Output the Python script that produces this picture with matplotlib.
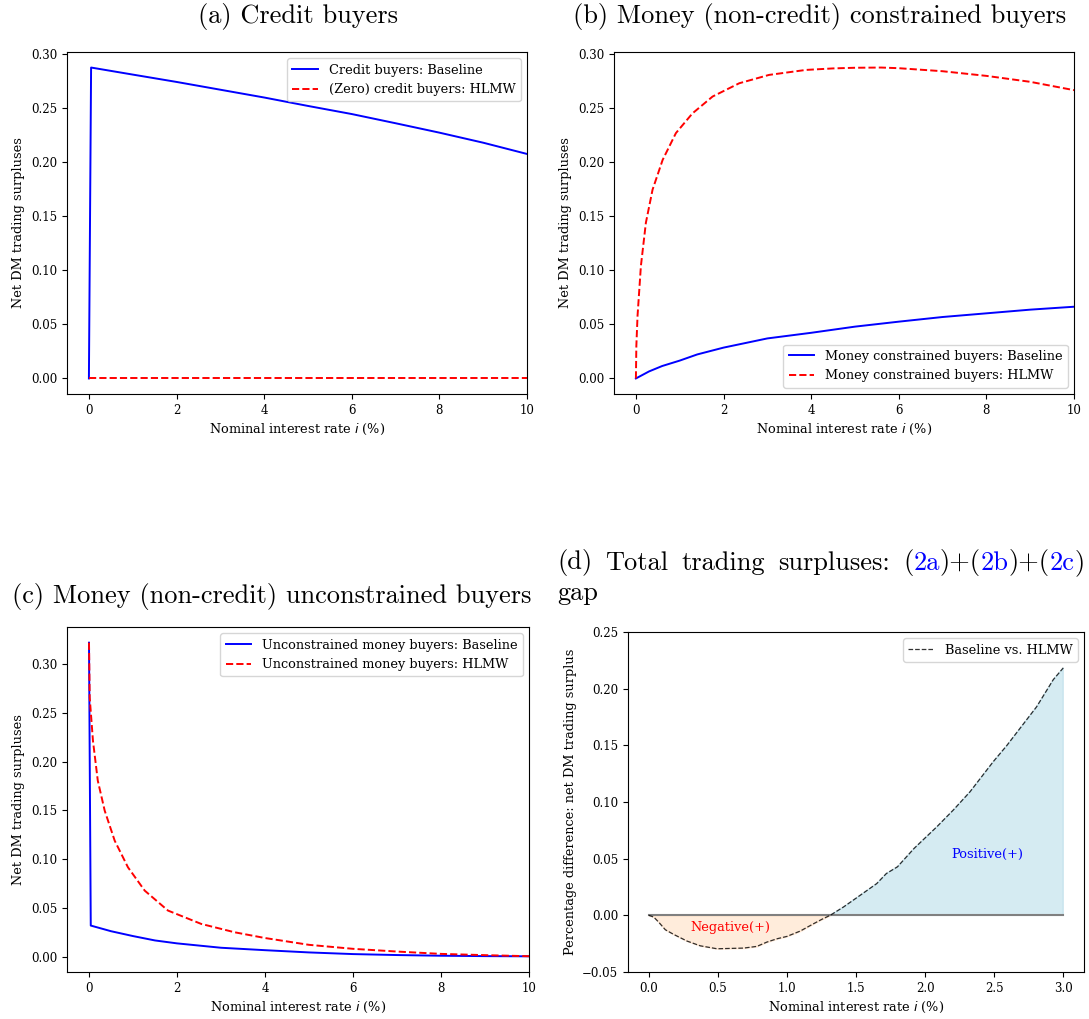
import matplotlib
matplotlib.use("Agg")
import matplotlib.pyplot as plt
import numpy as np

plt.rcParams['font.family'] = 'DejaVu Serif'
plt.rcParams['font.size'] = 9.3
plt.rcParams['xtick.labelsize'] = 8.5
plt.rcParams['ytick.labelsize'] = 8.5
plt.rcParams['legend.fontsize'] = 9.3
plt.rcParams['axes.unicode_minus'] = True

# (a) credit buyers
credit_x = [0, 0.05, 1, 2, 3, 4, 5, 6, 7, 8, 9, 10]
credit_base = [0, 0.2875, 0.281, 0.2742, 0.267, 0.2598, 0.252, 0.2445, 0.236, 0.2273, 0.218, 0.2076]
credit_hlmw_x = [0, 10]
credit_hlmw = [0, 0]

# (b) money constrained buyers
mc_base_x = [0, 0.3, 0.6, 1, 1.4, 2, 3, 4, 5, 6, 7, 8, 9, 10]
mc_base = [0, 0.0065, 0.0115, 0.0165, 0.0222, 0.0285, 0.037, 0.0422, 0.0479, 0.0525, 0.0568,
           0.0602, 0.0636, 0.0663]
mc_hlmw_x = [0, 0.01, 0.037, 0.114, 0.228, 0.38, 0.61, 0.913, 1.29, 1.75, 2.36, 3.04, 3.88,
             4.5, 5, 5.6, 6, 7, 8, 9, 10]
mc_hlmw = [0, 0.03, 0.0577, 0.104, 0.144, 0.1745, 0.202, 0.2268, 0.245, 0.2606, 0.2729, 0.2806,
           0.2852, 0.2866, 0.2872, 0.2874, 0.2868, 0.284, 0.2797, 0.2742, 0.2665]

# (c) money unconstrained buyers
mu_base_x = [0, 0.04, 0.5, 1, 1.5, 2, 3, 4, 5, 6, 7, 8, 9, 10]
mu_base = [0.3224, 0.0318, 0.026, 0.021, 0.0165, 0.0135, 0.009, 0.0065, 0.0042, 0.0025, 0.0015,
           0.0008, 0.0004, 0.0002]
mu_hlmw_x = [0, 0.016, 0.09, 0.2, 0.357, 0.584, 0.886, 1.266, 1.795, 2.55, 3.31, 4, 5, 6, 7, 8,
             9, 10]
mu_hlmw = [0.3224, 0.266, 0.2216, 0.1806, 0.1498, 0.119, 0.0916, 0.0677, 0.0472, 0.0335, 0.0249,
           0.019, 0.012, 0.0079, 0.0051, 0.0027, 0.0014, 0.0003]

# (d) gap
gap_x = [0, 0.036, 0.072, 0.12, 0.18, 0.277, 0.373, 0.494, 0.59, 0.687, 0.783, 0.855, 0.928,
         1.0, 1.096, 1.193, 1.253, 1.313, 1.41, 1.506, 1.65, 1.72, 1.80, 1.92, 2.084, 2.205,
         2.325, 2.494, 2.59, 2.687, 2.807, 2.928, 3.0]
gap = [0, -0.0015, -0.006, -0.0127, -0.0168, -0.0227, -0.0269, -0.0295, -0.0292, -0.0289,
       -0.0274, -0.0236, -0.0207, -0.0186, -0.0139, -0.0074, -0.0035, 0, 0.0074, 0.0156,
       0.028, 0.0369, 0.0428, 0.059, 0.078, 0.093, 0.109, 0.1357, 0.1496, 0.165, 0.184,
       0.208, 0.2183]

W, H = 1089, 1019
fig = plt.figure(figsize=(W / 100, H / 100), dpi=100)


def box(l, r, t, b):
    return [l / W, 1 - b / H, (r - l) / W, (b - t) / H]


ax_a = fig.add_axes(box(67, 527, 52, 394))
ax_b = fig.add_axes(box(614, 1074, 52, 394))
ax_c = fig.add_axes(box(67, 529, 627, 972))
ax_d = fig.add_axes(box(628, 1084, 632, 972))

lw = 1.4
ax_a.plot(credit_x, credit_base, color='blue', lw=lw, label='Credit buyers: Baseline')
ax_a.plot(credit_hlmw_x, credit_hlmw, color='red', ls='--', lw=lw,
          label='(Zero) credit buyers: HLMW')
ax_a.legend(loc='upper right')

ax_b.plot(mc_base_x, mc_base, color='blue', lw=lw, label='Money constrained buyers: Baseline')
ax_b.plot(mc_hlmw_x, mc_hlmw, color='red', ls='--', lw=lw, label='Money constrained buyers: HLMW')
ax_b.legend(loc='lower right')

ax_c.plot(mu_base_x, mu_base, color='blue', lw=lw, label='Unconstrained money buyers: Baseline')
ax_c.plot(mu_hlmw_x, mu_hlmw, color='red', ls='--', lw=lw,
          label='Unconstrained money buyers: HLMW')
ax_c.legend(loc='upper right')

for ax in (ax_a, ax_b, ax_c):
    ax.set_xlim(-0.5, 10)
    ax.set_xlabel('Nominal interest rate $i$ (%)')
    ax.set_ylabel('Net DM trading surpluses')

gx = np.array(gap_x)
gy = np.array(gap)
ax_d.fill_between(gx, gy, 0, where=gy >= 0, interpolate=True, color='lightblue', alpha=0.5)
ax_d.fill_between(gx, gy, 0, where=gy <= 0, interpolate=True, color='peachpuff', alpha=0.5)
ax_d.plot([gx[0], gx[-1]], [0, 0], color='gray', lw=1.5)
ax_d.plot(gx, gy, color='black', ls='--', lw=0.9, alpha=0.8, label='Baseline vs. HLMW')
ax_d.text(0.59, -0.011, 'Negative(+)', color='red', ha='center', va='center', fontsize=9.3)
ax_d.text(2.45, 0.054, 'Positive(+)', color='blue', ha='center', va='center', fontsize=9.3)
ax_d.set_ylim(-0.05, 0.25)
ax_d.legend(loc='upper right')
ax_d.set_xlabel('Nominal interest rate $i$ (%)')
ax_d.set_ylabel('Percentage difference: net DM trading surplus')

# subfigure captions
cap = dict(family='cmr10', fontsize=19, va='center')
fig.text(298 / W, 1 - 17 / H, '(a) Credit buyers', ha='center', **cap)
fig.text(820 / W, 1 - 17 / H, '(b) Money (non-credit) constrained buyers', ha='center', **cap)
fig.text(12 / W, 1 - 597 / H, '(c) Money (non-credit) unconstrained buyers', ha='left', **cap)

renderer = fig.canvas.get_renderer()
words = [[('(d)', 'black')], [('Total', 'black')], [('trading', 'black')],
         [('surpluses:', 'black')],
         [('(', 'black'), ('2a', 'blue'), (')+(', 'black'), ('2b', 'blue'),
          (')+(', 'black'), ('2c', 'blue'), (')', 'black')]]
x_left, x_right = 557, 1085
widths = []
for word in words:
    wsum = 0
    for s, c in word:
        t = fig.text(0, 0, s, **cap)
        wsum += t.get_window_extent(renderer).width
        t.remove()
    widths.append(wsum)
space = (x_right - x_left - sum(widths)) / (len(words) - 1)
x = x_left
for word, wd in zip(words, widths):
    xx = x
    for s, c in word:
        t = fig.text(xx / W, 1 - 563 / H, s, color=c, ha='left', **cap)
        xx += t.get_window_extent(renderer).width
    x += wd + space
fig.text(x_left / W, 1 - 593 / H, 'gap', ha='left', **cap)

fig.savefig('out.png', dpi=100)
